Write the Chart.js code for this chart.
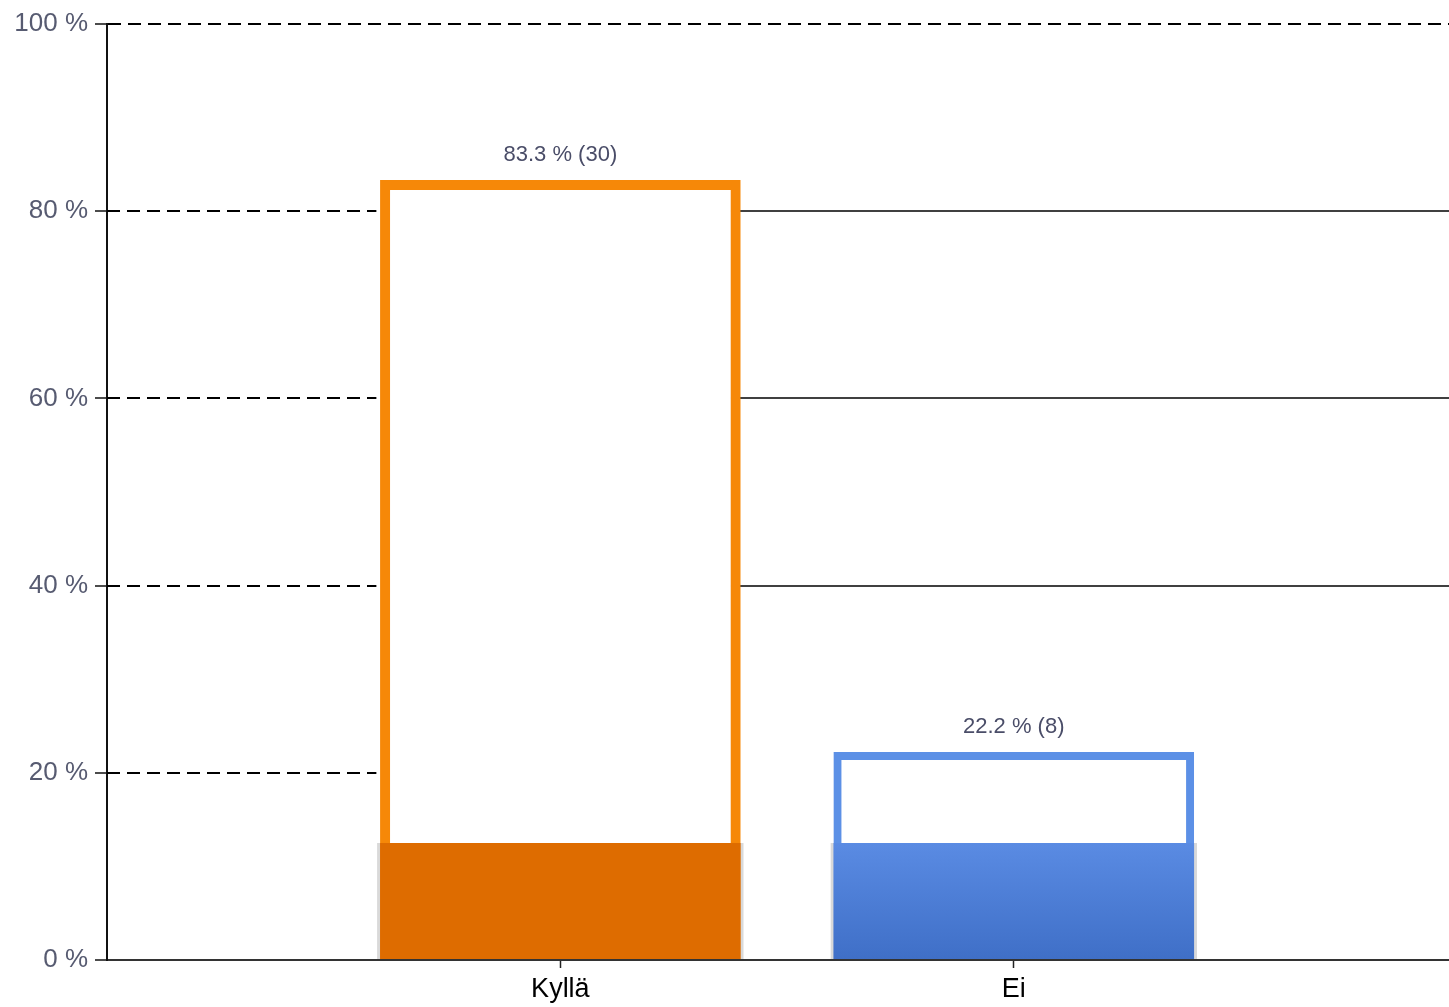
<!DOCTYPE html>
<html>
<head>
<meta charset="utf-8">
<script src="https://cdn.jsdelivr.net/npm/chart.js@4.4.0/dist/chart.umd.min.js"></script>
<style>
html, body { margin: 0; padding: 0; background: #fff; overflow: hidden; }
</style>
</head>
<body>
<canvas id="chart" width="1449" height="1007"></canvas>
<script>
// data
var categories = ['Kyllä', 'Ei'];
var percents = [83.3, 22.2];
var counts = [30, 8];
var baseFill = [12.5, 12.5];
var yTickValues = [0, 20, 40, 60, 80, 100];
var yTickLabels = ['0 %', '20 %', '40 %', '60 %', '80 %', '100 %'];

var outlineColors = ['#f68808', '#5c90e6'];
var fillColors = ['#de6c00', '#4a7ad6'];

// dashed grid on the left, solid grid on the right of the first bar
var gridPlugin = {
    id: 'gridBits',
    beforeDatasetsDraw: function (chart) {
        var ctx = chart.ctx;
        var y = chart.scales.y;
        var area = chart.chartArea;
        var bar = chart.getDatasetMeta(1).data[0];
        ctx.save();
        ctx.strokeStyle = '#000';
        ctx.lineWidth = 2;
        yTickValues.forEach(function (v) {
            if (v === 0 || v === 100) return;
            var py = Math.round(y.getPixelForValue(v));
            ctx.setLineDash([13, 7]);
            ctx.beginPath();
            ctx.moveTo(area.left, py);
            ctx.lineTo(bar.x - bar.width / 2 - 4, py);
            ctx.stroke();
            if (v >= 40) {
                ctx.setLineDash([]);
                ctx.lineWidth = 1.5;
                ctx.beginPath();
                ctx.moveTo(bar.x, py);
                ctx.lineTo(area.right, py);
                ctx.stroke();
                ctx.lineWidth = 2;
            }
        });
        ctx.restore();
    },
    afterDatasetsDraw: function (chart) {
        var ctx = chart.ctx;
        var meta = chart.getDatasetMeta(1);
        ctx.save();
        ctx.fillStyle = '#4a4d68';
        ctx.font = '22px "Liberation Sans", Arial, sans-serif';
        ctx.textAlign = 'center';
        ctx.textBaseline = 'middle';
        meta.data.forEach(function (bar, i) {
            ctx.fillText(percents[i] + ' % (' + counts[i] + ')', bar.x, bar.y - 25);
        });
        ctx.restore();
    }
};

var ctx = document.getElementById('chart').getContext('2d');
var chart = new Chart(ctx, {
    type: 'bar',
    data: {
        datasets: [{
            // filled lower block
            data: baseFill.map(function (v, i) { return {x: i + 1, y: v}; }),
            backgroundColor: function (c) {
                var i = c.dataIndex;
                var area = c.chart.chartArea;
                if (i === 1 && area) {
                    var y = c.chart.scales.y;
                    var g = c.chart.ctx.createLinearGradient(0, y.getPixelForValue(baseFill[i]), 0, y.getPixelForValue(0));
                    g.addColorStop(0, '#5a8be3');
                    g.addColorStop(1, '#3f6fc7');
                    return g;
                }
                return fillColors[i];
            },
            borderColor: '#d9d9d9',
            borderWidth: {left: 3, right: 3, top: 0, bottom: 0},
            borderSkipped: false,
            barThickness: 366,
            grouped: false,
            order: 0
        }, {
            // outlined bar
            data: percents.map(function (v, i) { return {x: i + 1, y: v}; }),
            backgroundColor: '#ffffff',
            borderColor: outlineColors,
            borderWidth: [10, 8],
            borderSkipped: 'bottom',
            barThickness: 360,
            grouped: false,
            order: 1
        }]
    },
    options: {
        responsive: false,
        animation: false,
        layout: {padding: {top: 24, right: 0, left: 0, bottom: 0}},
        plugins: {legend: {display: false}, tooltip: {enabled: false}},
        scales: {
            x: {
                type: 'linear',
                min: 0,
                max: 2.96,
                offset: false,
                afterBuildTicks: function (scale) {
                    scale.ticks = categories.map(function (c, i) { return {value: i + 1}; });
                },
                afterFit: function (scale) { scale.height = 47; },
                ticks: {
                    autoSkip: false,
                    maxRotation: 0,
                    padding: 5,
                    color: '#000',
                    font: {family: '"Liberation Sans", Arial, sans-serif', size: 27},
                    callback: function (v) { return categories[v - 1]; }
                },
                grid: {offset: false, drawOnChartArea: false, tickLength: 8, tickColor: '#222', tickWidth: 1.5},
                border: {color: '#333', width: 2}
            },
            y: {
                min: 0,
                max: 100,
                afterBuildTicks: function (scale) {
                    scale.ticks = yTickValues.map(function (v) { return {value: v}; });
                },
                afterFit: function (scale) { scale.width = 107; },
                ticks: {
                    padding: 7,
                    color: '#575b71',
                    font: {family: '"Liberation Sans", Arial, sans-serif', size: 26},
                    callback: function (v) { return yTickLabels[yTickValues.indexOf(v)]; }
                },
                grid: {
                    color: function (c) { return c.tick && c.tick.value === 100 ? '#000' : 'rgba(0,0,0,0)'; },
                    lineWidth: 2,
                    tickLength: 12,
                    tickColor: '#111',
                    tickWidth: 1.5
                },
                border: {color: '#111', width: 2, dash: [13, 7]}
            }
        }
    },
    plugins: [gridPlugin]
});
</script>
</body>
</html>
